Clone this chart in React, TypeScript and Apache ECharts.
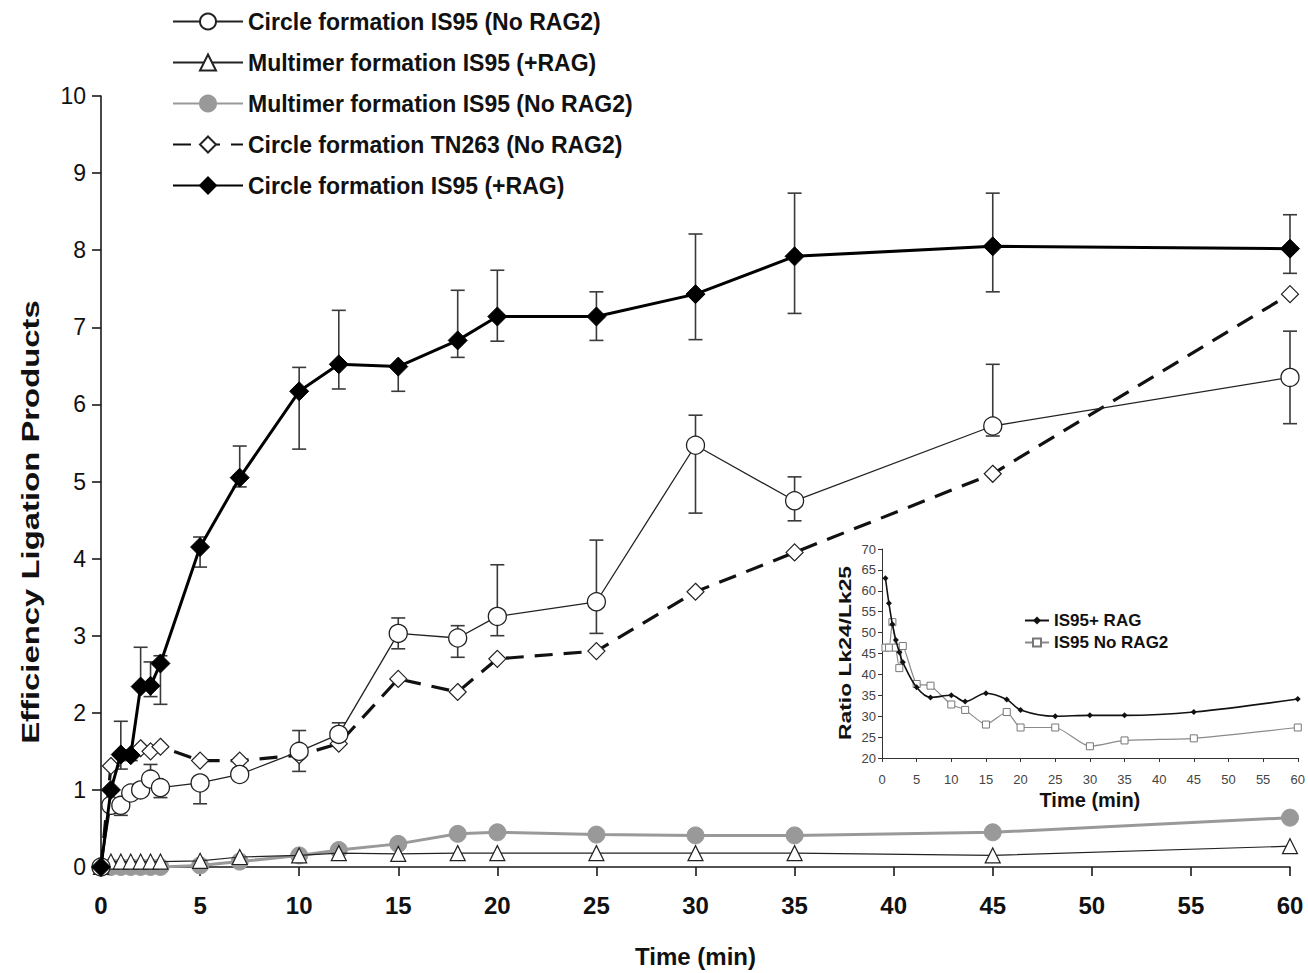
import React, { useEffect, useRef } from "react";
import * as echarts from "echarts";

const times = [0, 0.5, 1, 1.5, 2, 2.5, 3, 5, 7, 10, 12, 15, 18, 20, 25, 30, 35, 45, 60];
const circleNoRag = [0, 0.8, 0.8, 0.96, 1.0, 1.14, 1.03, 1.09, 1.2, 1.5, 1.72, 3.03, 2.97, 3.25, 3.44, 5.47, 4.75, 5.72, 6.35];
const multimerRag = [0, 0.07, 0.07, 0.07, 0.07, 0.07, 0.07, 0.08, 0.13, 0.15, 0.18, 0.17, 0.18, 0.18, 0.18, 0.18, 0.18, 0.15, 0.27];
const multimerNoRag = [0, 0, 0, 0, 0, 0, 0, 0.02, 0.07, 0.15, 0.22, 0.3, 0.43, 0.45, 0.42, 0.41, 0.41, 0.45, 0.64];
const tn263NoRag = [0, 1.31, 1.45, 1.45, 1.54, 1.5, 1.56, 1.38, 1.38, 1.45, 1.6, 2.44, 2.27, 2.7, 2.8, 3.57, 4.08, 5.1, 7.43];
const circleRag = [0, 1.0, 1.46, 1.45, 2.34, 2.35, 2.64, 4.15, 5.05, 6.17, 6.52, 6.49, 6.83, 7.14, 7.14, 7.43, 7.92, 8.05, 8.02];

// error bars: [time, low, high]
const errCircleRag = [
  [1, 1.27, 1.89], [1.5, 1.38, 1.52], [2, 2.33, 2.85], [2.5, 2.21, 2.66], [3, 2.11, 2.74],
  [5, 3.89, 4.28], [7, 4.93, 5.46], [10, 5.42, 6.48], [12, 6.2, 7.22], [15, 6.17, 6.49],
  [18, 6.61, 7.48], [20, 6.82, 7.74], [25, 6.83, 7.46], [30, 6.84, 8.21], [35, 7.18, 8.74],
  [45, 7.46, 8.74], [60, 7.7, 8.46],
];
const errCircleNoRag = [
  [1, 0.67, 0.8], [2.5, 1.14, 1.33], [3, 0.9, 1.03], [5, 0.82, 1.09], [10, 1.24, 1.77],
  [12, 1.72, 1.87], [15, 2.83, 3.23], [18, 2.72, 3.13], [20, 3.0, 3.92], [25, 3.03, 4.24],
  [30, 4.59, 5.86], [35, 4.49, 5.06], [45, 5.59, 6.52], [60, 5.75, 6.95],
];

const insetTimes = [0.5, 1, 1.5, 2, 2.5, 3, 5, 7, 10, 12, 15, 18, 20, 25, 30, 35, 45, 60];
const ratioRag = [63.0, 57.0, 52.0, 48.2, 45.3, 42.9, 36.9, 34.5, 35.0, 33.5, 35.5, 34.0, 31.5, 30.0, 30.2, 30.2, 31.0, 34.1];
const ratioNoRag = [46.4, 46.4, 52.5, 46.4, 41.5, 46.8, 37.7, 37.3, 32.8, 31.5, 28.0, 31.0, 27.3, 27.3, 22.8, 24.2, 24.7, 27.3];

const zip = (xs: number[], ys: number[]) => xs.map((x, i) => [x, ys[i]]);
const FONT = "'Liberation Sans', Arial, Helvetica, sans-serif";

function errorSeries(data: number[][]) {
  return {
    type: "custom",
    xAxisIndex: 0,
    yAxisIndex: 0,
    z: 1,
    encode: { x: 0, y: [1, 2] },
    data,
    renderItem: (_params: any, api: any) => {
      const x = api.value(0);
      const lo = api.coord([x, api.value(1)]);
      const hi = api.coord([x, api.value(2)]);
      const w = 7;
      const st = { stroke: "#3a3a3a", lineWidth: 1.6 };
      return {
        type: "group",
        children: [
          { type: "line", shape: { x1: lo[0], y1: lo[1], x2: hi[0], y2: hi[1] }, style: st },
          { type: "line", shape: { x1: lo[0] - w, y1: lo[1], x2: lo[0] + w, y2: lo[1] }, style: st },
          { type: "line", shape: { x1: hi[0] - w, y1: hi[1], x2: hi[0] + w, y2: hi[1] }, style: st },
        ],
      };
    },
  };
}

export default function App() {
  const ref = useRef<HTMLDivElement>(null);
  useEffect(() => {
    const chart = echarts.init(ref.current!, undefined, { renderer: "svg" });
    const axisLineMain = { show: true, lineStyle: { color: "#1a1a1a", width: 1.6 } };
    const axisLineInset = { show: true, lineStyle: { color: "#333", width: 1 } };
    chart.setOption({
      animation: false,
      backgroundColor: "#fff",
      textStyle: { fontFamily: FONT },
      grid: [
        { left: 101, right: 18, top: 96, bottom: 104 },
        { left: 882, right: 6, top: 549, bottom: 215 },
      ],
      graphic: [
        {
          type: "text",
          x: 31,
          y: 522,
          rotation: Math.PI / 2,
          scaleX: 1.37,
          style: {
            text: "Efficiency Ligation Products",
            fontSize: 24,
            fontWeight: "bold",
            fontFamily: FONT,
            fill: "#111",
            align: "center",
            verticalAlign: "middle",
            textAlign: "center",
            textVerticalAlign: "middle",
          },
        },
        {
          type: "text",
          x: 845,
          y: 653,
          rotation: Math.PI / 2,
          scaleX: 1.43,
          style: {
            text: "Ratio Lk24/Lk25",
            fontSize: 16,
            fontWeight: "bold",
            fontFamily: FONT,
            fill: "#111",
            align: "center",
            verticalAlign: "middle",
            textAlign: "center",
            textVerticalAlign: "middle",
          },
        },
      ],
      legend: [
        {
          orient: "vertical",
          left: 167,
          top: 5,
          itemWidth: 70,
          itemHeight: 20,
          itemGap: 18,
          textStyle: { fontSize: 23, fontWeight: "bold", color: "#111", fontFamily: FONT },
          data: [
            "Circle formation IS95 (No RAG2)",
            "Multimer formation IS95 (+RAG)",
            "Multimer formation IS95 (No RAG2)",
            "Circle formation TN263 (No RAG2)",
            "Circle formation IS95 (+RAG)",
          ],
        },
        {
          orient: "vertical",
          left: 1019,
          top: 607,
          itemWidth: 24,
          itemHeight: 10,
          itemGap: 5,
          textStyle: { fontSize: 17, fontWeight: "bold", color: "#111", fontFamily: FONT },
          data: ["IS95+ RAG", "IS95 No RAG2"],
        },
      ],
      xAxis: [
        {
          type: "value",
          gridIndex: 0,
          min: 0,
          max: 60,
          interval: 5,
          axisLine: axisLineMain,
          axisTick: { show: true, length: 9, lineStyle: { color: "#1a1a1a", width: 1.6 } },
          axisLabel: { fontSize: 24, fontWeight: "bold", color: "#111", margin: 26, fontFamily: FONT },
          splitLine: { show: false },
          name: "Time (min)",
          nameLocation: "middle",
          nameGap: 77,
          nameTextStyle: { fontSize: 24, fontWeight: "bold", color: "#111", fontFamily: FONT },
        },
        {
          type: "value",
          gridIndex: 1,
          min: 0,
          max: 60,
          interval: 5,
          axisLine: axisLineInset,
          axisTick: { show: true, length: 4, lineStyle: { color: "#333" } },
          axisLabel: { fontSize: 13, color: "#444", margin: 15, fontFamily: FONT },
          splitLine: { show: false },
          name: "Time (min)",
          nameLocation: "middle",
          nameGap: 32,
          nameTextStyle: { fontSize: 20, fontWeight: "bold", color: "#111", fontFamily: FONT },
        },
      ],
      yAxis: [
        {
          type: "value",
          gridIndex: 0,
          min: 0,
          max: 10,
          interval: 1,
          axisLine: axisLineMain,
          axisTick: { show: true, length: 9, lineStyle: { color: "#1a1a1a", width: 1.6 } },
          axisLabel: { fontSize: 23, color: "#111", margin: 15, fontFamily: FONT },
          splitLine: { show: false },
        },
        {
          type: "value",
          gridIndex: 1,
          min: 20,
          max: 70,
          interval: 5,
          axisLine: axisLineInset,
          axisTick: { show: true, length: 4, lineStyle: { color: "#333" } },
          axisLabel: { fontSize: 13, color: "#444", margin: 6, fontFamily: FONT },
          splitLine: { show: false },
        },
      ],
      series: [
        errorSeries(errCircleRag),
        errorSeries(errCircleNoRag),
        {
          name: "Multimer formation IS95 (No RAG2)",
          type: "line",
          xAxisIndex: 0,
          yAxisIndex: 0,
          z: 2,
          data: zip(times, multimerNoRag),
          symbol: "circle",
          symbolSize: 17,
          lineStyle: { color: "#999", width: 3 },
          itemStyle: { color: "#999", borderColor: "#999", borderWidth: 1 },
        },
        {
          name: "Multimer formation IS95 (+RAG)",
          type: "line",
          xAxisIndex: 0,
          yAxisIndex: 0,
          z: 3,
          data: zip(times, multimerRag),
          symbol: "triangle",
          symbolSize: 15,
          lineStyle: { color: "#222", width: 1.2 },
          itemStyle: { color: "#fff", borderColor: "#222", borderWidth: 1.2 },
        },
        {
          name: "Circle formation TN263 (No RAG2)",
          type: "line",
          xAxisIndex: 0,
          yAxisIndex: 0,
          z: 4,
          data: zip(times, tn263NoRag),
          symbol: "diamond",
          symbolSize: 17,
          lineStyle: { color: "#111", width: 3.2, type: [18, 11] },
          itemStyle: { color: "#fff", borderColor: "#222", borderWidth: 1.2 },
        },
        {
          name: "Circle formation IS95 (No RAG2)",
          type: "line",
          xAxisIndex: 0,
          yAxisIndex: 0,
          z: 5,
          data: zip(times, circleNoRag),
          symbol: "circle",
          symbolSize: 18,
          lineStyle: { color: "#222", width: 1.3 },
          itemStyle: { color: "#fff", borderColor: "#222", borderWidth: 1.3 },
        },
        {
          name: "Circle formation IS95 (+RAG)",
          type: "line",
          xAxisIndex: 0,
          yAxisIndex: 0,
          z: 6,
          data: zip(times, circleRag),
          symbol: "diamond",
          symbolSize: 19,
          lineStyle: { color: "#000", width: 3 },
          itemStyle: { color: "#000", borderColor: "#000", borderWidth: 1 },
        },
        {
          name: "IS95 No RAG2",
          type: "line",
          xAxisIndex: 1,
          yAxisIndex: 1,
          z: 3,
          smooth: 0.2,
          data: zip(insetTimes, ratioNoRag),
          symbol: "rect",
          symbolSize: 7,
          lineStyle: { color: "#8a8a8a", width: 1.2 },
          itemStyle: { color: "#fff", borderColor: "#777", borderWidth: 1 },
        },
        {
          name: "IS95+ RAG",
          type: "line",
          xAxisIndex: 1,
          yAxisIndex: 1,
          z: 4,
          smooth: 0.35,
          data: zip(insetTimes, ratioRag),
          symbol: "diamond",
          symbolSize: 6,
          lineStyle: { color: "#111", width: 1.6 },
          itemStyle: { color: "#111" },
        },
      ],
    });
    return () => chart.dispose();
  }, []);
  return <div ref={ref} style={{ width: 1308, height: 973, position: "absolute", left: 0, top: 0 }} />;
}
